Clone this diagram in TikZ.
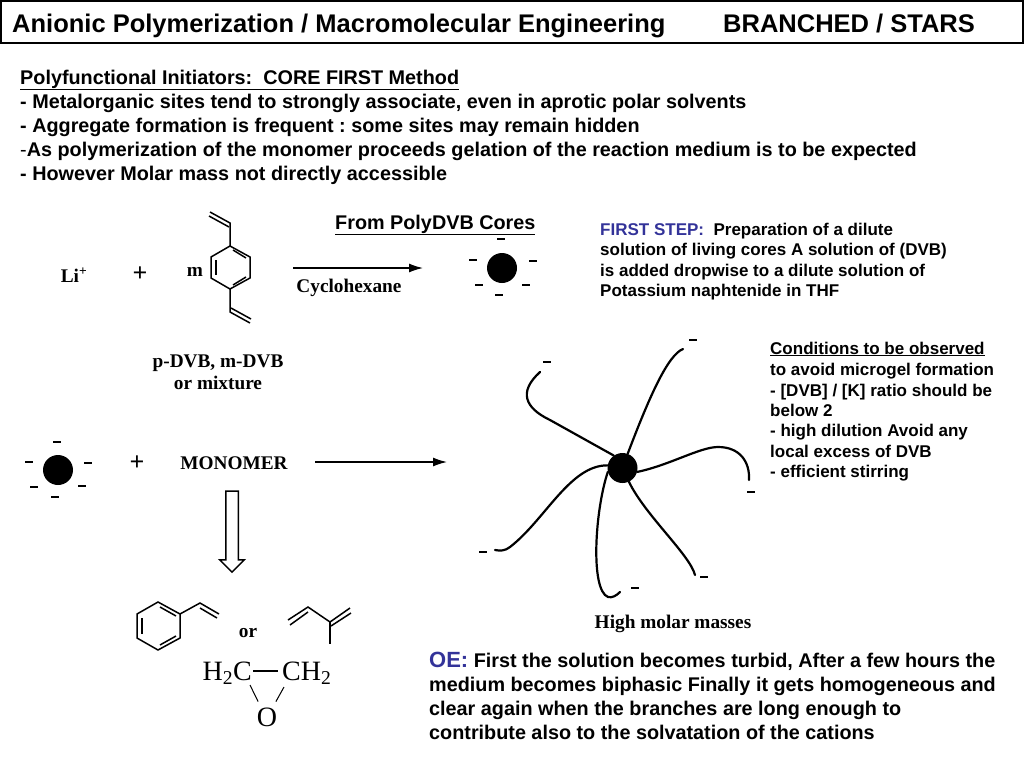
\documentclass[tikz,border=0pt]{standalone}
\usepackage{fontspec}
\setmainfont{Liberation Sans}
\newfontfamily\chemfont{Liberation Serif}
\usepackage{xcolor}
\usetikzlibrary{arrows.meta}
\usetikzlibrary{shapes.arrows}
\definecolor{stepblue}{HTML}{333399}

\begin{document}
\frenchspacing
\begin{tikzpicture}[
    x=1pt,
    y=-1pt,
    txt/.style={
        anchor=base west,
        inner sep=0pt,
        font=\fontsize{19.8}{22}\selectfont\bfseries
    },
    small/.style={
        anchor=base west,
        inner sep=0pt,
        font=\fontsize{17}{20}\selectfont\bfseries
    },
    chem/.style={
        inner sep=0pt,
        font=\fontsize{19.3}{21}\selectfont\chemfont\bfseries
    },
    epo/.style={
        inner sep=0pt,
        font=\fontsize{28}{30}\selectfont\chemfont
    },
    bond/.style={
        line width=1.5pt
    },
    arm/.style={
        line width=2.2pt,
        line cap=round
    },
    arr/.style={
        -{Latex[length=14pt,width=9pt]},
        line width=1.4pt
    },
    core/.style={
        circle,
        fill=black,
        inner sep=0pt,
        minimum size=30pt
    },
    charge/.style={
        fill=black,
        inner sep=0pt,
        minimum width=8pt,
        minimum height=1.6pt
    }
]
\useasboundingbox (0,0) rectangle (1024,768);

% Title
\node[draw,line width=1.5pt,minimum width=1022pt,minimum height=42pt,inner sep=0pt] (head) at (512,22) {};
\node[txt,font=\fontsize{25.5}{28}\selectfont\bfseries] (title) at (12,33) {Anionic Polymerization / Macromolecular Engineering};
\node[txt,font=\fontsize{25.5}{28}\selectfont\bfseries] (kind) at (723,33) {BRANCHED / STARS};

% Intro
\node[txt] (l1) at (20,84) {\underline{Polyfunctional Initiators:\ \ CORE FIRST Method}};
\node[txt] (l2) at (20,108) {- Metalorganic sites tend to strongly associate, even in aprotic polar solvents};
\node[txt] (l3) at (20,132) {- Aggregate formation is frequent : some sites may remain hidden};
\node[txt] (l4) at (20,156) {{\mdseries -}As polymerization of the monomer proceeds gelation of the reaction medium is to be expected};
\node[txt] (l5) at (20,180) {- However Molar mass not directly accessible};

\node[txt] (from) at (335,229) {\underline{From PolyDVB Cores}};

% First step
\node[small] (s1) at (600,235) {\textcolor{stepblue}{FIRST STEP:}\ \ Preparation of a dilute};
\node[small] (s2) at (600,255) {solution of living cores A solution of (DVB)};
\node[small] (s3) at (600,276) {is added dropwise to a dilute solution of};
\node[small] (s4) at (600,296) {Potassium naphtenide in THF};

% Conditions
\node[small] (c1) at (770,354) {\underline{Conditions to be observed}};
\node[small] (c2) at (770,375) {to avoid microgel formation};
\node[small] (c3) at (770,396) {- [DVB] / [K] ratio should be};
\node[small] (c4) at (770,416) {below 2};
\node[small] (c5) at (770,436) {- high dilution Avoid any};
\node[small] (c6) at (770,457) {local excess of DVB};
\node[small] (c7) at (770,477) {- efficient stirring};

% Solvatation note
\node[txt] (o1) at (429,667) {\textcolor{stepblue}{\fontsize{22}{24}\selectfont OE:} First the solution becomes turbid, After a few hours the};
\node[txt] (o2) at (429,691) {medium becomes biphasic Finally it gets homogeneous and};
\node[txt] (o3) at (429,715) {clear again when the branches are long enough to};
\node[txt] (o4) at (429,739) {contribute also to the solvatation of the cations};

% First reaction
\node[chem] (li) at (74,275) {Li\textsuperscript{+}};
\node[chem,font=\fontsize{26}{28}\selectfont\chemfont\bfseries] (plusa) at (140,274) {+};
\node[chem] (m) at (195,272) {m};
\draw[bond] (230,246) -- (250,257) -- (250,278) -- (230,289) -- (211,278) -- (211,257) -- cycle;
\draw[bond] (216,260) -- (216,275);
\draw[bond] (233,250) -- (246,258);
\draw[bond] (233,285) -- (246,277);
\draw[bond] (230,246) -- (230,223) -- (210,212);
\draw[bond] (229,227) -- (209,216);
\draw[bond] (230,289) -- (230,312) -- (250,323);
\draw[bond] (231,308) -- (251,319);
\node[chem] (dvb) at (218,363) {p-DVB, m-DVB};
\node[chem] (mix) at (218,383) {or mixture};
\coordinate (ara) at (293,268);
\coordinate (arb) at (423,268);
\draw[arr] (ara) -- (arb);
\node[chem] (cyclo) at (349,288) {Cyclohexane};

% Living core
\node[core] (corea) at (502,268) {};
\foreach \x/\y [count=\i] in {501/239,473/260,533/261,479/285,526/285,499/295}
    \node[charge] (qa\i) at (\x,\y) {};

% Second reaction
\node[core] (coreb) at (58,470) {};
\foreach \x/\y [count=\i] in {57/442,29/462,88/463,34/487,82/486,55/497}
    \node[charge] (qb\i) at (\x,\y) {};
\node[chem,font=\fontsize{26}{28}\selectfont\chemfont\bfseries] (plusb) at (137,463) {+};
\node[chem] (mono) at (234,463) {MONOMER};
\coordinate (arc) at (315,462);
\coordinate (ard) at (447,462);
\draw[arr] (arc) -- (ard);
\node[
    draw,
    single arrow,
    line width=1.5pt,
    inner sep=5.5pt,
    rotate=-90,
    minimum height=81pt,
    minimum width=23pt,
    single arrow head extend=6pt
] (down) at (232,528.5) {};

% Star
\node[core] (star) at (622.5,468) {};
\coordinate (enda) at (683,349);
\coordinate (endb) at (540,372);
\coordinate (endc) at (749,480);
\coordinate (endd) at (695,575);
\coordinate (ende) at (620,592);
\coordinate (endf) at (495,550);
\draw[arm] (star.70) .. controls (650,395) and (668,355) .. (enda);
\draw[arm] (star.125) -- (550,420) .. controls (525,408) and (518,392) .. (endb);
\draw[arm] (star.-15) .. controls (670,465) and (700,447) .. (718,447) .. controls (740,447) and (750,462) .. (endc);
\draw[arm] (star.-65) .. controls (645,515) and (690,555) .. (endd);
\draw[arm] (star.-165) .. controls (595,510) and (590,590) .. (608,597) .. controls (612,598) and (616,596) .. (ende);
\draw[arm] (star.170) .. controls (570,465) and (545,520) .. (510,547) .. controls (505,551) and (500,551) .. (endf);
\foreach \x/\y [count=\i] in {693/340,547/362,751/492,704/577,635/588,483/552}
    \node[charge] (qs\i) at (\x,\y) {};
\node[chem] (high) at (673,624) {High molar masses};

% Monomers
\draw[bond] (158,602) -- (180,614) -- (180,638) -- (158,650) -- (137,638) -- (137,614) -- cycle;
\draw[bond] (142,618) -- (142,634);
\draw[bond] (160,607) -- (176,616);
\draw[bond] (160,645) -- (176,636);
\draw[bond] (180,614) -- (200,603) -- (219,614);
\draw[bond] (200,608) -- (217,618);
\node[chem] (ora) at (248,633) {or};
\draw[bond] (288,620) -- (308,607) -- (330,622) -- (350,608);
\draw[bond] (290,625) -- (308,612);
\draw[bond] (331,626) -- (351,613);
\draw[bond] (330,622) -- (330,644);

% Epoxide
\node[epo,anchor=east] (cha) at (252,673) {H\textsubscript{2}C};
\node[epo,anchor=west] (chb) at (282,673) {CH\textsubscript{2}};
\node[epo,outer sep=6pt] (oxy) at (267,717) {O};
\draw[bond] ([xshift=1pt,yshift=2pt]cha.east) -- ([xshift=-4pt,yshift=2pt]chb.west);
\draw[line width=1pt] (250,685) -- (oxy.120);
\draw[line width=1pt] (284,687) -- (oxy.60);
\end{tikzpicture}
\end{document}
